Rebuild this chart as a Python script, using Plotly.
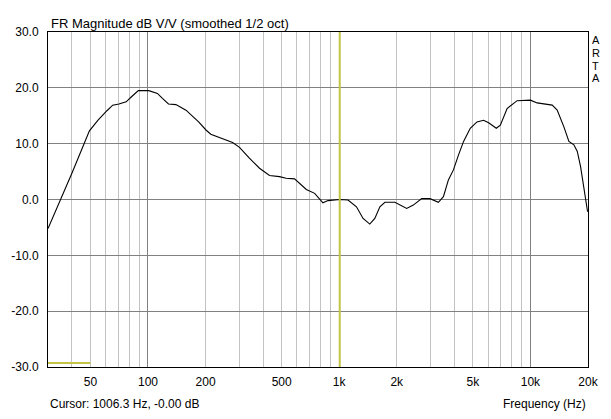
import numpy as np
import plotly.graph_objects as go

# FR magnitude, 1/2 oct smoothed
freq = [30, 34.8, 40, 49.4, 54.8, 61, 65.4, 70.5, 76.9, 82, 89, 101, 112, 119, 128,
        140, 158, 184, 201, 213, 236, 277, 301, 339, 383, 432, 487, 528, 584, 673,
        744, 822, 873, 1006, 1112, 1231, 1333, 1445, 1535, 1632, 1733, 1955, 2253,
        2440, 2700, 2985, 3300, 3507, 3724, 3956, 4207, 4470, 4845, 5252, 5690,
        6045, 6630, 6960, 7550, 8520, 10000, 10840, 13000, 13800, 14960, 15890,
        16870, 17580, 18290, 19050, 19900]
mag_db = [-5.2, -0.1, 4.7, 12.3, 14.2, 15.9, 16.9, 17.1, 17.5, 18.4, 19.5, 19.5, 19.0,
          18.1, 17.1, 17.0, 16.0, 13.9, 12.45, 11.7, 11.1, 10.2, 9.35, 7.4, 5.6, 4.3,
          4.1, 3.8, 3.7, 1.8, 1.1, -0.6, -0.2, 0.0, -0.1, -1.3, -3.4, -4.4, -3.4, -1.3,
          -0.5, -0.5, -1.6, -1.0, 0.15, 0.15, -0.5, 0.5, 3.5, 5.3, 8.0, 10.4, 12.75,
          13.9, 14.2, 13.75, 12.75, 13.3, 16.3, 17.7, 17.8, 17.3, 16.9, 16.0, 13.0,
          10.4, 9.8, 8.6, 5.9, 1.7, -2.2]

cursor_freq = 1006.3
cursor_db = -0.00
marker_freq = [30, 50]
marker_db = [-29.3, -29.3]

x_tickvals = [50, 100, 200, 500, 1000, 2000, 5000, 10000, 20000]
x_ticktext = ['50', '100', '200', '500', '1k', '2k', '5k', '10k', '20k']
x_minor = [40, 50, 60, 70, 80, 90, 200, 300, 400, 500, 600, 700, 800, 900,
           2000, 3000, 4000, 5000, 6000, 7000, 8000, 9000]
x_decades = [100, 1000, 10000]
y_tickvals = [-30, -20, -10, 0, 10, 20, 30]
y_ticktext = ['-30.0', '-20.0', '-10.0', '0.0', '10.0', '20.0', '30.0']

f_lo, f_hi = 30, 20000
font = 'Arial, Liberation Sans, sans-serif'
olive = 'rgb(195,195,70)'

fig = go.Figure()
fig.add_trace(go.Scatter(x=freq, y=mag_db, mode='lines',
                         line=dict(color='black', width=1.1)))
fig.add_trace(go.Scatter(x=marker_freq, y=marker_db, mode='lines',
                         line=dict(color=olive, width=2)))
fig.add_trace(go.Scatter(x=[cursor_freq, cursor_freq], y=[-30, 30], mode='lines',
                         line=dict(color=olive, width=2), xaxis='x2'))

xr = [np.log10(f_lo), np.log10(f_hi)]
fig.update_layout(
    width=611, height=419,
    margin=dict(l=48, r=23, t=32, b=52),
    paper_bgcolor='white', plot_bgcolor='white',
    showlegend=False,
    font=dict(family=font, size=12, color='black'),
    xaxis=dict(type='log', range=xr, tickmode='array', tickvals=x_tickvals,
               ticktext=x_ticktext, showgrid=False, zeroline=False,
               showline=True, mirror=True, linecolor='black', linewidth=1,
               ticks='', ticklabelstandoff=4,
               minor=dict(tickmode='array', tickvals=x_minor, showgrid=True,
                          gridcolor='rgb(195,195,195)', gridwidth=1, ticks='')),
    xaxis2=dict(type='log', range=xr, overlaying='x', tickmode='array',
                tickvals=x_decades, showticklabels=False, showgrid=True,
                gridcolor='rgb(128,128,128)', gridwidth=1, zeroline=False,
                showline=False, ticks=''),
    yaxis=dict(range=[-30, 30], tickmode='array', tickvals=y_tickvals,
               ticktext=y_ticktext, showgrid=True, gridcolor='rgb(128,128,128)',
               gridwidth=1, zeroline=False, showline=True, mirror=True,
               linecolor='black', linewidth=1, ticks='', ticklabelstandoff=6),
)

fig.add_annotation(text='FR Magnitude dB V/V (smoothed 1/2 oct)', xref='paper',
                   yref='paper', x=0.0, y=1.0, xanchor='left', yanchor='bottom',
                   xshift=1, yshift=-1, showarrow=False, font=dict(size=13))
# vertical ARTA label on the right, one letter per line
for i, ch in enumerate('ARTA'):
    fig.add_annotation(text=ch, xref='paper', yref='paper', x=1.0, y=1.0,
                       xanchor='left', yanchor='middle', xshift=3, borderpad=0,
                       yshift=-8 - i * 12.8, showarrow=False, font=dict(size=11))
fig.add_annotation(text='Cursor: %.1f Hz, -%.2f dB' % (cursor_freq, abs(cursor_db)),
                   xref='paper', yref='paper', x=0.0, y=0.0, xanchor='left',
                   yanchor='top', yshift=-28, showarrow=False, font=dict(size=12))
fig.add_annotation(text='Frequency (Hz)', xref='paper', yref='paper', x=1.0, y=0.0,
                   xanchor='right', yanchor='top', yshift=-28, showarrow=False,
                   font=dict(size=12))

# the page is photographed from its top-left corner, so drop the body margin
fig.write_html('out.html', config={'displayModeBar': False},
               post_script="document.body.style.margin='0';")
